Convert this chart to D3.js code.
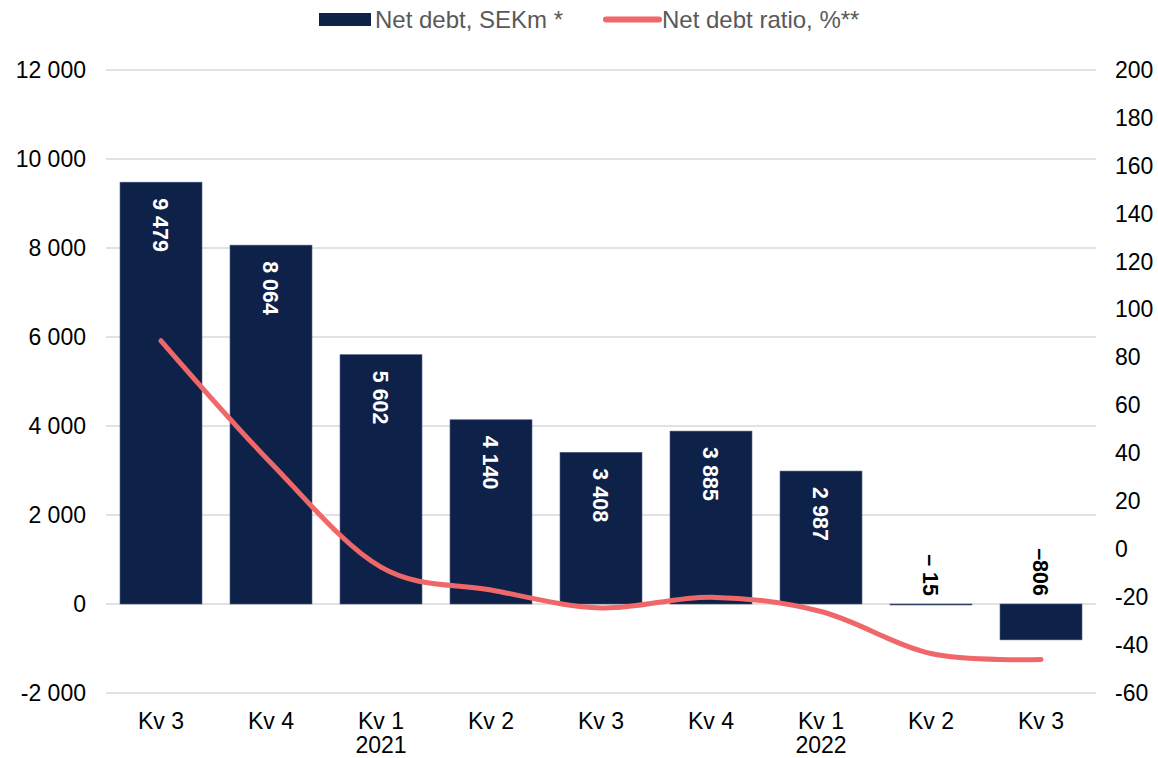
<!DOCTYPE html>
<html>
<head>
<meta charset="utf-8">
<script src="https://cdn.jsdelivr.net/npm/d3@7"></script>
<style>
  body { margin: 0; background: #fff; }
  svg { display: block; font-family: "Liberation Sans", Arial, sans-serif; }
</style>
</head>
<body>
<svg id="chart" width="1158" height="758"></svg>
<script>
// data
const quarters = ["Kv 3", "Kv 4", "Kv 1", "Kv 2", "Kv 3", "Kv 4", "Kv 1", "Kv 2", "Kv 3"];
const years = ["", "", "2021", "", "", "", "2022", "", ""];
const netDebt = [9479, 8064, 5602, 4140, 3408, 3885, 2987, -15, -806];
const netDebtLabels = ["9 479", "8 064", "5 602", "4 140", "3 408", "3 885", "2 987", "– 15", "–806"];
const debtRatio = [87, 36, -7.5, -17, -24.5, -20, -26, -43.5, -46];
const leftTicks = [-2000, 0, 2000, 4000, 6000, 8000, 10000, 12000];
const rightTicks = [-60, -40, -20, 0, 20, 40, 60, 80, 100, 120, 140, 160, 180, 200];

const svg = d3.select("#chart");
const plotTop = 70, plotBottom = 693, plotLeft = 106, plotRight = 1096;

const x = d3.scaleBand()
  .domain(d3.range(quarters.length))
  .range([plotLeft, plotRight])
  .paddingInner(0.255)
  .paddingOuter(0.1275);

const yL = d3.scaleLinear().domain([-2000, 12000]).range([plotBottom, plotTop]);
const yR = d3.scaleLinear().domain([-60, 200]).range([plotBottom, plotTop]);

// "12 000", "-2 000"
const fmt = v => d3.format(",")(v).replace(/,/g, " ").replace("−", "-");

// gridlines
svg.append("g")
  .selectAll("line")
  .data(leftTicks)
  .enter()
  .append("line")
  .attr("x1", plotLeft).attr("x2", plotRight)
  .attr("y1", d => yL(d)).attr("y2", d => yL(d))
  .style("stroke", "#d9d9d9")
  .style("stroke-width", 1.5);

// left axis
const yAxisL = d3.axisLeft(yL).tickValues(leftTicks).tickSize(0).tickPadding(20).tickFormat(fmt);
svg.append("g")
  .attr("class", "y-axis-left")
  .attr("transform", `translate(${plotLeft},0)`)
  .call(yAxisL)
  .call(g => g.select(".domain").remove())
  .selectAll("text")
  .style("font-size", "23px")
  .style("fill", "#000")
  .style("font-family", "Liberation Sans, Arial, sans-serif");

// right axis
const yAxisR = d3.axisRight(yR).tickValues(rightTicks).tickSize(0).tickPadding(19)
  .tickFormat(d => String(d));
svg.append("g")
  .attr("class", "y-axis-right")
  .attr("transform", `translate(${plotRight},0)`)
  .call(yAxisR)
  .call(g => g.select(".domain").remove())
  .selectAll("text")
  .style("font-size", "23px")
  .style("fill", "#000")
  .style("font-family", "Liberation Sans, Arial, sans-serif");

// bars
svg.selectAll(".bar")
  .data(netDebt)
  .enter()
  .append("rect")
  .attr("class", "bar")
  .attr("x", (d, i) => x(i))
  .attr("y", d => Math.min(yL(d), yL(0)))
  .attr("width", x.bandwidth())
  .attr("height", d => Math.max(1, Math.abs(yL(d) - yL(0))))
  .style("fill", "#0e2249")
  .style("stroke", "#44557a")
  .style("stroke-width", 0.6);

// bar labels (rotated)
svg.selectAll(".bar-label")
  .data(netDebt)
  .enter()
  .append("text")
  .attr("class", "bar-label")
  .attr("transform", (d, i) => {
    const cx = x(i) + x.bandwidth() / 2;
    return d > 0
      ? `translate(${cx},${yL(d) + 16}) rotate(90)`
      : `translate(${cx},${yL(0) - 8}) rotate(90)`;
  })
  .attr("text-anchor", d => d > 0 ? "start" : "end")
  .attr("dy", "0.35em")
  .style("font-size", "21.5px")
  .style("font-weight", "bold")
  .style("fill", d => d > 0 ? "#fff" : "#000")
  .text((d, i) => netDebtLabels[i]);

// line
const line = d3.line()
  .x((d, i) => x(i) + x.bandwidth() / 2)
  .y(d => yR(d))
  .curve(d3.curveCardinal.tension(0));

svg.append("path")
  .datum(debtRatio)
  .attr("d", line)
  .style("fill", "none")
  .style("stroke", "#f0676a")
  .style("stroke-width", 5)
  .style("stroke-linecap", "round");

// x labels
const xl = svg.append("g").attr("class", "x-axis");
xl.selectAll(".q")
  .data(quarters)
  .enter()
  .append("text")
  .attr("x", (d, i) => x(i) + x.bandwidth() / 2)
  .attr("y", 729)
  .attr("text-anchor", "middle")
  .style("font-size", "23px")
  .text(d => d);
xl.selectAll(".yr")
  .data(years)
  .enter()
  .append("text")
  .attr("x", (d, i) => x(i) + x.bandwidth() / 2)
  .attr("y", 753)
  .attr("text-anchor", "middle")
  .style("font-size", "23px")
  .text(d => d);

// legend
const legend = svg.append("g").attr("class", "legend");
legend.append("rect")
  .attr("x", 319).attr("y", 13).attr("width", 52).attr("height", 13)
  .style("fill", "#0e2249");
legend.append("text")
  .attr("x", 375).attr("y", 28)
  .style("font-size", "24px").style("fill", "#595959")
  .text("Net debt, SEKm *");
legend.append("line")
  .attr("x1", 606).attr("x2", 659).attr("y1", 19.5).attr("y2", 19.5)
  .style("stroke", "#f0676a").style("stroke-width", 6).style("stroke-linecap", "round");
legend.append("text")
  .attr("x", 662).attr("y", 28)
  .style("font-size", "24px").style("fill", "#595959")
  .text("Net debt ratio, %**");
</script>
</body>
</html>
